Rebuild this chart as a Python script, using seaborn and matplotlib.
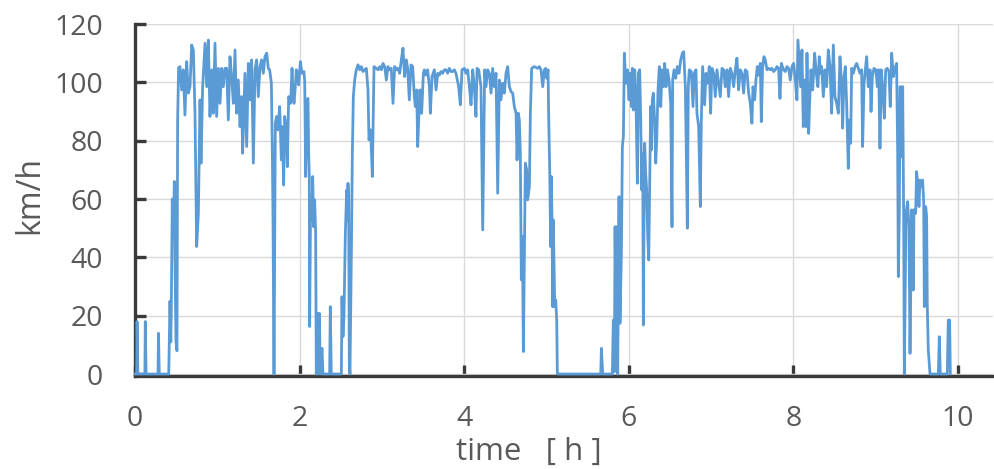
import numpy as np
import pandas as pd
import matplotlib
matplotlib.use("Agg")
import matplotlib.pyplot as plt
import seaborn as sns

# ---- data: speed (km/h) vs time (h) ----
t_a = [0.0, 0.02, 0.025, 0.035, 0.12, 0.125, 0.135, 0.28, 0.285, 0.295, 0.41, 0.425, 0.435,
       0.44, 0.453, 0.46, 0.47, 0.478, 0.485, 0.498, 0.51, 0.518, 0.53]
v_a = [0, 0, 18, 0, 0, 18, 0, 0, 14, 0, 0, 25, 11,
       20, 60, 47, 55, 66, 40, 11, 8, 87, 105]

t_b = [0.547, 0.567, 0.587, 0.607, 0.628, 0.648, 0.668, 0.689, 0.709, 0.729, 0.749, 0.770,
       0.790, 0.802, 0.822, 0.851, 0.871, 0.891, 0.911, 0.932, 0.952, 0.972, 0.992, 1.013,
       1.033, 1.053, 1.073, 1.093, 1.114, 1.134, 1.154, 1.174, 1.195, 1.215, 1.235, 1.255,
       1.276, 1.296, 1.308, 1.336, 1.357, 1.377, 1.397, 1.417, 1.438, 1.458, 1.478, 1.498,
       1.519, 1.539, 1.559, 1.579, 1.600, 1.620]
v_b = [105.4, 97.4, 104.3, 88.8, 107.1, 96.3, 98.5, 112.8, 111.1, 89.4, 43.7, 55.1,
       94, 72.3, 98.5, 113.4, 98.5, 114.5, 88.3, 104.3, 89.4, 113.4, 88.3, 104.8,
       92.8, 104.8, 98.5, 104.8, 104.8, 87.1, 108.8, 102, 92.8, 111.1, 89.4, 100.8,
       84.8, 95.1, 75.7, 103.1, 78, 106.5, 94, 107.7, 72.3, 104.3, 107.7, 95.1,
       105.4, 107.7, 103.1, 108.8, 110, 104.8]

t_c = [1.636, 1.657, 1.669, 1.677, 1.689, 1.697, 1.705, 1.721, 1.737, 1.758, 1.778, 1.790,
       1.806, 1.819, 1.839, 1.851, 1.867, 1.891, 1.908, 1.920, 1.932, 1.948, 1.960, 1.972,
       1.989, 2.009, 2.029, 2.053, 2.062, 2.074, 2.086, 2.102, 2.110, 2.118, 2.122, 2.134,
       2.147, 2.159, 2.171, 2.183, 2.195, 2.203, 2.215, 2.228, 2.240, 2.252, 2.272, 2.284,
       2.365, 2.373, 2.385, 2.507, 2.515, 2.527, 2.539, 2.556, 2.572, 2.580, 2.588, 2.596,
       2.604, 2.612, 2.629, 2.641, 2.653, 2.669, 2.689, 2.710, 2.730, 2.750, 2.770, 2.791,
       2.811, 2.831, 2.843, 2.863, 2.884, 2.904, 2.932, 2.953, 2.973, 2.993, 3.013, 3.034,
       3.054, 3.074, 3.094, 3.114, 3.135, 3.155, 3.175, 3.195, 3.216, 3.236, 3.256, 3.276,
       3.297]
v_c = [104.3, 99.7, 75.7, 52.8, 0, 41.4, 86, 88.3, 83.7, 91.7, 73.4, 84.8,
       64.8, 88.3, 83.7, 71.1, 95.1, 92.8, 104.8, 96.3, 92.8, 98.5, 104.3, 103.1,
       99.1, 107.1, 103.1, 103.7, 100.3, 67.7, 94, 94.5, 75.7, 67.7, 16.3, 59.1,
       52.8, 67.7, 50.5, 59.7, 48.3, 0, 20.8, 0, 20.8, 0, 8.8, 0,
       0, 23.1, 0, 0, 26.5, 12.8, 19.7, 48.3, 63.1, 52.8, 65.4, 59.7,
       3.7, 0, 41.4, 75.7, 95.1, 100.8, 104.3, 106, 104.3, 105.4, 103.7, 104.3,
       104.8, 97.4, 80.3, 83.7, 67.7, 105.4, 104.8, 104.3, 105.4, 104.3, 106.5, 105.4,
       100.8, 105.4, 104.3, 104.8, 92.8, 105.4, 104.3, 104.8, 103.1, 107.7, 111.7, 102,
       107.7]

t_d = [3.313, 3.333, 3.354, 3.374, 3.394, 3.406, 3.423, 3.435, 3.447, 3.463, 3.483, 3.504,
       3.516, 3.536, 3.556, 3.577, 3.589, 3.609, 3.637, 3.658, 3.678, 3.698, 3.718, 3.738,
       3.759, 3.779, 3.799, 3.819, 3.840, 3.860, 3.880, 3.900, 3.933, 3.953, 3.973, 4.002,
       4.022, 4.042, 4.063, 4.083, 4.103, 4.123, 4.143, 4.156, 4.176, 4.204, 4.225, 4.249,
       4.265, 4.285, 4.306, 4.326, 4.346, 4.366, 4.387, 4.407, 4.427, 4.447, 4.468, 4.488,
       4.508, 4.528, 4.549, 4.569, 4.589, 4.609, 4.630, 4.642, 4.658, 4.670, 4.682, 4.694,
       4.707, 4.719, 4.731, 4.743, 4.759, 4.771, 4.792, 4.804, 4.820, 4.852, 4.893, 4.913,
       4.933, 4.954, 4.974]
v_d = [104.8, 94, 106, 105.4, 95.1, 91.7, 97.4, 78, 87.1, 97.4, 89.4, 103.1,
       104.3, 102.5, 104.3, 98.5, 89.4, 102, 104.3, 97.4, 103.1, 102.5, 103.7, 103.1,
       104.3, 104.3, 103.1, 104.8, 103.7, 103.7, 104.3, 103.1, 98.5, 92.3, 104.3, 104.8,
       103.1, 104.3, 98.5, 92.3, 104.3, 98.5, 88.3, 104.8, 104.3, 98.5, 49.4, 104.3,
       98.5, 104.3, 103.1, 96.3, 104.8, 98.5, 103.1, 62, 100.8, 94, 99.7, 96.3,
       103.1, 105.4, 98.5, 96.8, 96.3, 91.7, 89.4, 73.4, 89.4, 87.1, 75.7, 32.3,
       47.1, 7.7, 41.4, 72.3, 70, 59.7, 64.3, 89.4, 104.8, 105.4, 104.8, 105.4,
       104.3, 98.5, 104.3]

t_e = [4.990, 5.002, 5.019, 5.027, 5.039, 5.051, 5.059, 5.067, 5.075, 5.083, 5.100, 5.112,
       5.124, 5.132, 5.659, 5.667, 5.683, 5.800, 5.812, 5.825, 5.833, 5.845, 5.853, 5.865,
       5.881, 5.893, 5.910, 5.922, 5.934, 5.946, 5.962, 5.983, 6.003, 6.015, 6.031, 6.043,
       6.055, 6.072, 6.088, 6.104, 6.116, 6.132, 6.145, 6.157, 6.169, 6.177, 6.185, 6.193,
       6.205, 6.217, 6.230, 6.242, 6.254, 6.266, 6.274, 6.286, 6.298, 6.315, 6.327, 6.339,
       6.355, 6.371, 6.388, 6.404, 6.420, 6.436, 6.452, 6.469, 6.489, 6.509, 6.525, 6.533,
       6.550, 6.570, 6.590, 6.610, 6.631, 6.651]
v_e = [104.8, 101.4, 104.3, 87.1, 70, 43.7, 67.7, 52.8, 23.1, 52.8, 23.1, 25.4,
       18.5, 0, 0, 8.8, 0, 0, 18.5, 0.8, 50.5, 18.5, 50.5, 0,
       60.8, 17.4, 41.4, 78, 81.4, 110, 99.7, 104.3, 94, 103.1, 91.7, 104.8,
       90.5, 104.3, 92.8, 65.4, 103.1, 104.3, 87.1, 63.1, 75.7, 16.8, 52.8, 79.1,
       68.8, 63.1, 47.1, 39.1, 66.5, 91.7, 76.8, 94, 96.3, 86, 72.3, 80.3,
       97.4, 105.4, 91.7, 104.3, 98.5, 106.5, 98.5, 104.3, 100.8, 92.8, 50.5, 100.8,
       104.3, 101.4, 105.4, 103.1, 107.7, 110]

t_f = [6.667, 6.687, 6.699, 6.711, 6.723, 6.735, 6.760, 6.780, 6.796, 6.816, 6.828, 6.849,
       6.869, 6.881, 6.897, 6.921, 6.938, 6.958, 6.978, 6.994, 7.010, 7.031, 7.051, 7.071,
       7.091, 7.112, 7.132, 7.152, 7.172, 7.193, 7.213, 7.233, 7.253, 7.274, 7.294, 7.314,
       7.334, 7.355, 7.375, 7.395, 7.415, 7.436, 7.456, 7.476, 7.496, 7.509, 7.529, 7.545,
       7.561, 7.577, 7.598, 7.610, 7.626, 7.642, 7.658, 7.679, 7.699, 7.719, 7.739, 7.760,
       7.780, 7.800, 7.820, 7.837, 7.853, 7.881, 7.902, 7.922, 7.942, 7.962, 7.983, 8.003,
       8.023, 8.043, 8.055, 8.072, 8.088, 8.104, 8.120, 8.136, 8.153, 8.165, 8.185, 8.197,
       8.213, 8.234, 8.258, 8.278, 8.298, 8.314, 8.331]
v_f = [110.5, 98.5, 75.7, 50, 98.5, 104.3, 103.7, 91.7, 103.1, 104.3, 89.4, 84.8,
       57.4, 87.1, 105.4, 92.3, 103.1, 99.7, 105.4, 89.4, 104.8, 103.1, 95.1, 104.3,
       99.7, 95.1, 104.8, 104.3, 98.5, 104.3, 95.1, 104.8, 103.1, 98.5, 104.3, 108.3,
       97.4, 104.3, 103.1, 96.3, 104.3, 103.7, 96.3, 92.8, 86, 98.5, 94, 100.8,
       105.4, 102.5, 106.5, 86.5, 105.4, 108.8, 107.7, 104.3, 104.8, 104.3, 104.8, 103.7,
       104.3, 105.4, 104.8, 94.5, 106.5, 104.3, 103.7, 105.4, 104.8, 100.8, 105.4, 106.5,
       100.8, 94, 114.5, 106.5, 98.5, 111.1, 84.8, 100.8, 84.8, 110, 82.5, 92.8,
       104.3, 97.4, 110, 103.1, 98.5, 108.8, 103.1]

t_g = [8.343, 8.364, 8.384, 8.404, 8.424, 8.445, 8.465, 8.485, 8.505, 8.526, 8.546, 8.566,
       8.586, 8.598, 8.615, 8.631, 8.647, 8.667, 8.679, 8.696, 8.708, 8.728, 8.748, 8.769,
       8.789, 8.809, 8.829, 8.841, 8.858, 8.874, 8.890, 8.910, 8.931, 8.943, 8.959, 8.979,
       9.003, 9.020, 9.036, 9.052, 9.068, 9.084, 9.105, 9.121, 9.141, 9.161, 9.177, 9.194,
       9.214, 9.234, 9.254]
v_g = [105.4, 95.1, 104.3, 98.5, 111.1, 105.4, 89.4, 112.8, 95.1, 92.8, 89.4, 108.8,
       98.5, 84.3, 102, 105.4, 92.8, 70.5, 87.1, 79.1, 104.8, 103.1, 105.4, 106.5,
       104.8, 103.1, 104.3, 78, 99.7, 104.3, 108.8, 98.5, 104.3, 90, 102, 104.8,
       104.3, 98.5, 104.3, 77.4, 104.3, 98.5, 87.7, 104.3, 104.8, 103.7, 91.7, 110,
       102, 104.8, 106.5]

t_h = [9.267, 9.275, 9.287, 9.295, 9.307, 9.315, 9.328, 9.340, 9.348, 9.368, 9.388, 9.404,
       9.417, 9.437, 9.457, 9.465, 9.485, 9.497, 9.514, 9.526, 9.538, 9.554, 9.570, 9.583,
       9.591, 9.607, 9.619, 9.627, 9.639, 9.660, 9.761, 9.773, 9.785, 9.870, 9.882, 9.898,
       9.907]
v_h = [75.7, 33.4, 55.1, 98.5, 98.5, 74.5, 98.5, 52.8, 0, 55.1, 59.1, 50.5,
       7.1, 56.3, 28.8, 56.3, 55.1, 69.4, 64.3, 57.4, 66.5, 64.3, 66.5, 59.1,
       23.1, 57.4, 54, 23.1, 8.3, 0, 0, 12.8, 0, 0, 18.5, 18.5,
       0]

x_ticks = [0, 2, 4, 6, 8, 10]
y_ticks = [0, 20, 40, 60, 80, 100, 120]
x_label = "time   [ h ]"
y_label = "km/h"

df = pd.DataFrame({
    "time": t_a + t_b + t_c + t_d + t_e + t_f + t_g + t_h,
    "speed": v_a + v_b + v_c + v_d + v_e + v_f + v_g + v_h,
})

# ---- style ----
sns.set_theme(style="white")
plt.rcParams["font.family"] = ["Open Sans", "DejaVu Sans"]

W, H = 994, 469
fig = plt.figure(figsize=(W / 100, H / 100), dpi=100)
ax_left, ax_right, ax_top, ax_bot = 135, 993, 24, 375.5
ax = fig.add_axes([ax_left / W, 1 - ax_bot / H, (ax_right - ax_left) / W, (ax_bot - ax_top) / H])

line_color = "#5B9BD5"
sns.lineplot(data=df, x="time", y="speed", ax=ax, color=line_color, linewidth=2.0,
             estimator=None, sort=False, zorder=3, clip_on=False)

ax.set_xlim(0, (ax_right - ax_left) / 82.3)
ax.set_ylim(-0.5, 120)
ax.set_xticks(x_ticks)
ax.set_yticks(y_ticks)
ax.set_xticklabels([str(v) for v in x_ticks])
ax.set_yticklabels([str(v) for v in y_ticks])

ax.grid(True, color="#d9d9d9", linewidth=1.0, zorder=0)
ax.set_axisbelow(True)

for side in ["top", "right"]:
    ax.spines[side].set_visible(False)
for side in ["left", "bottom"]:
    ax.spines[side].set_color("#3a3a3a")
    ax.spines[side].set_linewidth(2.4)
    ax.spines[side].set_zorder(2.5)

label_color = "#595959"
ax.tick_params(axis="y", direction="in", length=8, width=2.4, color="#3a3a3a",
               pad=23, labelsize=20.5, labelcolor=label_color, left=True)
ax.tick_params(axis="x", direction="in", length=8, width=2.4, color="#3a3a3a",
               pad=21, labelsize=20.5, labelcolor=label_color, bottom=True)

ax.set_xlabel("")
ax.set_ylabel("")
fig.text(529 / W, 1 - 452 / H, x_label, ha="center", va="center",
         fontsize=22.5, color=label_color)
fig.text(30 / W, 1 - 195 / H, y_label, ha="center", va="center", rotation=90,
         fontsize=23, color=label_color)

fig.savefig("out.png", dpi=100, facecolor="white")
